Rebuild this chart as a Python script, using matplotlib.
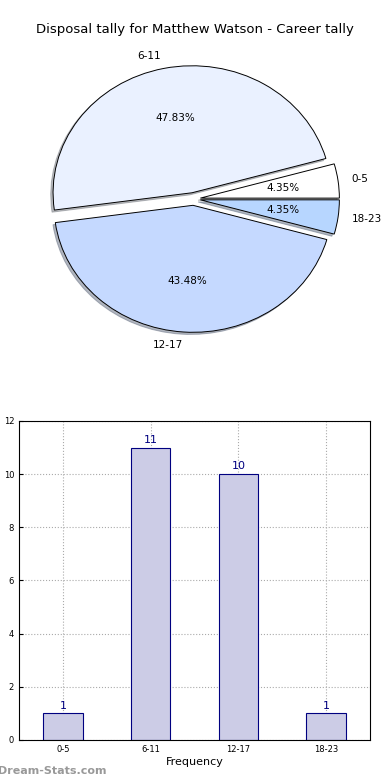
import matplotlib
matplotlib.use('Agg')
import matplotlib.pyplot as plt

categories = ['0-5', '6-11', '12-17', '18-23']
counts = [1, 11, 10, 1]
pie_colors = ['#FFFFFF', '#EAF1FF', '#C5D9FF', '#B7D6FF']
title = 'Disposal tally for Matthew Watson - Career tally'

fig = plt.figure(figsize=(3.9, 7.8), dpi=100)
fig.patch.set_facecolor('white')

# pie on top
ax1 = fig.add_axes([0.0506, 0.5414, 0.891, 0.407])
wedges, texts, autotexts = ax1.pie(counts, labels=categories, colors=pie_colors,
                                   explode=[0.05] * 4,
                                   shadow={'ox': -0.012, 'oy': -0.012, 'shade': 0.5},
                                   startangle=0,
                                   autopct='%1.2f%%', pctdistance=0.6, labeldistance=1.1,
                                   wedgeprops={'edgecolor': 'black', 'linewidth': 0.7},
                                   textprops={'fontsize': 7.5})
ax1.set_aspect('auto')
ax1.set_xlim(-1.25, 1.25)
ax1.set_ylim(-1.25, 1.25)
fig.text(0.5, 1 - 30 / 780, title, ha='center', va='center', fontsize=9.5)

# bars below
ax2 = fig.add_axes([0.0487, 0.0513, 0.9, 0.409])
x = range(len(categories))
ax2.bar(x, counts, width=0.45, color='#CCCCE6', edgecolor='#000080', linewidth=0.8, zorder=2)
for i, c in zip(x, counts):
    ax2.text(i, c + 0.1, str(c), ha='center', va='bottom', color='#000080', fontsize=8)
ax2.set_xlim(-0.5, 3.5)
ax2.set_ylim(0, 12)
ax2.set_yticks(range(0, 13, 2))
ax2.set_xticks(list(x))
ax2.set_xticklabels(categories)
ax2.tick_params(labelsize=6, direction='in', length=3, top=False, right=False)
ax2.grid(True, linestyle=':', color='#AAAAAA', linewidth=0.8, zorder=0)
ax2.set_xlabel('Frequency', fontsize=8, labelpad=2)
ax2.set_ylabel('Games with tally', fontsize=7, labelpad=6)

fig.text(-0.005, 0.012, 'Dream-Stats.com', fontsize=8, color='#999999', fontweight='bold', ha='left', va='center')

plt.savefig('out.png', dpi=100)
